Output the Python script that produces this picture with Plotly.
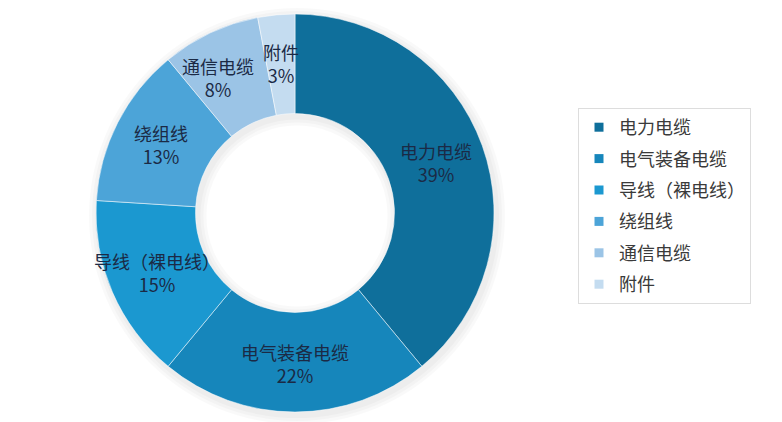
import math
import plotly.graph_objects as go

categories = ["电力电缆", "电气装备电缆", "导线（裸电线）", "绕组线", "通信电缆", "附件"]
shares = [39, 22, 15, 13, 8, 3]
colors = ["#0f6f9b", "#1686bb", "#1b98d0", "#4ca4d8", "#9bc4e6", "#c4dcf0"]

W, H = 782, 422
OFF = 8  # page body offset of the plot div

def px_x(p):
    return (p - OFF) / W

def px_y(p):
    return 1 - (p - OFF) / H

# donut placement in window pixels
LEFT, RIGHT, TOP, BOTTOM = 96, 494, 14, 412
CX, CY = (LEFT + RIGHT) / 2, (TOP + BOTTOM) / 2
R_OUT = (RIGHT - LEFT) / 2
HOLE = 0.5
LABEL_R = 0.755 * R_OUT
# small per-label nudges (pixels) to keep neighbouring labels apart
LABEL_SHIFT = {"通信电缆": (-13, 0)}

fig = go.Figure()

# faint soft shadow around the ring
for d in (9, 6, 3):
    r = R_OUT + d
    fig.add_trace(go.Pie(
        values=[1], labels=["shadow"], sort=False, showlegend=False,
        hole=max(HOLE * R_OUT - d, 1) / r,
        marker=dict(colors=["rgba(0,0,0,0.025)"], line=dict(width=0)),
        textinfo="none", textposition="none", hoverinfo="skip",
        domain=dict(x=[px_x(CX - r + 2), px_x(CX + r + 2)],
                    y=[px_y(CY + r + 3), px_y(CY - r + 3)]),
    ))

fig.add_trace(go.Pie(
    labels=categories,
    values=shares,
    sort=False,
    direction="clockwise",
    rotation=0,
    hole=HOLE,
    showlegend=False,
    marker=dict(colors=colors, line=dict(color="rgba(255,255,255,0.5)", width=1)),
    textinfo="none",
    textposition="none",
    domain=dict(x=[px_x(LEFT), px_x(RIGHT)], y=[px_y(BOTTOM), px_y(TOP)]),
))

# slice labels placed at the angular middle of each slice (derived from data)
total = sum(shares)
cum = 0
for name, v in zip(categories, shares):
    mid = (cum + v / 2) / total * 2 * math.pi
    cum += v
    lx = CX + LABEL_R * math.sin(mid)
    ly = CY - LABEL_R * math.cos(mid)
    sx, sy = LABEL_SHIFT.get(name, (0, 0))
    fig.add_annotation(
        x=px_x(lx), y=px_y(ly), xref="paper", yref="paper",
        xshift=sx, yshift=sy,
        text=f"{name}<br>{v}%", showarrow=False,
        xanchor="center", yanchor="middle", align="center",
        font=dict(family="Noto Sans CJK SC", size=18, color="#1b2a45"),
    )

for name, col in zip(categories, colors):
    fig.add_trace(go.Scatter(
        x=[None], y=[None], mode="markers", name=name,
        legendgroup=name,
        marker=dict(symbol="square", size=9, color=col),
        showlegend=True,
    ))

fig.update_layout(
    width=W, height=H,
    margin=dict(l=0, r=0, t=0, b=0),
    paper_bgcolor="white",
    plot_bgcolor="white",
    font=dict(family="Noto Sans CJK SC", color="#333333"),
    xaxis=dict(visible=False),
    yaxis=dict(visible=False),
    legend=dict(
        x=px_x(578), y=px_y(206), xanchor="left", yanchor="middle",
        bordercolor="#dddddd", borderwidth=1,
        font=dict(size=18, color="#3a3a3a"),
        tracegroupgap=5,
        itemwidth=30,
    ),
)

fig.write_html("out.html")
